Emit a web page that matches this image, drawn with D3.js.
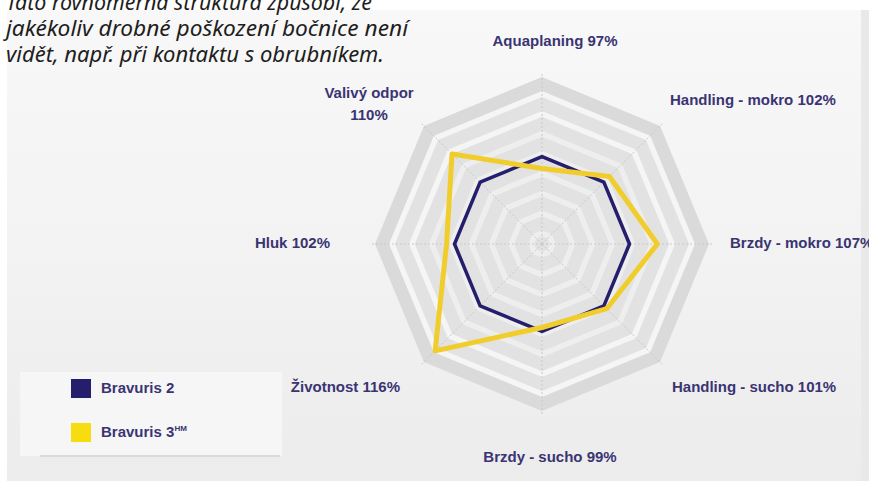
<!DOCTYPE html>
<html>
<head>
<meta charset="utf-8">
<script src="https://cdn.jsdelivr.net/npm/d3@7"></script>
<style>
  html, body { margin: 0; padding: 0; background: #ffffff; }
  #chart { width: 869px; height: 481px; overflow: hidden; }
</style>
</head>
<body>
<div id="chart"></div>
<script>
// data
const axes = ["Aquaplaning", "Handling - mokro", "Brzdy - mokro", "Handling - sucho",
              "Brzdy - sucho", "Životnost", "Hluk", "Valivý odpor"];
const bravuris2 = [100, 100, 100, 100, 100, 100, 100, 100];
const bravuris3 = [97, 102, 107, 101, 99, 116, 102, 110];
const seriesNames = ["Bravuris 2", "Bravuris 3"];
const gridTicks = [120, 115, 110, 105, 100, 95, 90, 85, 80];
const captionLines = [
    "Tato rovnoměrná struktura způsobí, že",
    "jakékoliv drobné poškození bočnice není",
    "vidět, např. při kontaktu s obrubníkem."
];

function drawRadar() {

    d3.select("#chart").selectAll("*").remove();

    const W = 869, H = 481;
    const cx = 542, cy = 244;
    const navy = "#241e6c", yellow = "#f1cd2c", labelColor = "#3a3472";

    const svg = d3.select("#chart")
        .append("svg")
        .attr("width", W)
        .attr("height", H);

    const defs = svg.append("defs");
    const bg = defs.append("linearGradient").attr("id", "bg")
        .attr("x1", 0).attr("y1", 0).attr("x2", 0).attr("y2", 1);
    bg.append("stop").attr("offset", "0%").attr("stop-color", "#f8f8f8");
    bg.append("stop").attr("offset", "55%").attr("stop-color", "#f2f2f2");
    bg.append("stop").attr("offset", "100%").attr("stop-color", "#ececec");

    // photo background
    svg.append("rect")
        .attr("x", 7).attr("y", 10)
        .attr("width", W - 7).attr("height", H - 10)
        .attr("fill", "url(#bg)");
    svg.append("rect")
        .attr("x", 861).attr("y", 10)
        .attr("width", 8).attr("height", H - 10)
        .attr("fill", "#e9e9e9");

    const rScale = d3.scaleLinear()
        .domain([78, 120])
        .range([0, 167]);

    const angle = d3.scalePoint()
        .domain(d3.range(axes.length + 1))
        .range([0, 2 * Math.PI]);

    const point = (i, r) => [cx + r * Math.sin(angle(i)), cy - r * Math.cos(angle(i))];
    const octagon = r => d3.range(axes.length).map(i => point(i, r));
    const line = d3.line().curve(d3.curveLinearClosed);

    const grid = svg.append("g").attr("class", "grid");

    // alternating grey / white bands
    gridTicks.forEach((t, k) => {
        const r = rScale(t);
        grid.append("path")
            .attr("d", line(octagon(r)))
            .attr("fill", k === 0 ? "#dadada" : "#e2e2e2");
        grid.append("path")
            .attr("d", line(octagon(Math.max(r - 14, 0))))
            .attr("fill", k < 2 ? "#f5f5f5" : "#eeeeee");
    });

    // dashed axis lines
    grid.selectAll(".axis")
        .data(axes)
        .enter().append("line")
        .attr("class", "axis")
        .attr("x1", cx).attr("y1", cy)
        .attr("x2", (d, i) => point(i, rScale(120) + 4)[0])
        .attr("y2", (d, i) => point(i, rScale(120) + 4)[1])
        .attr("stroke", "#c8c8c8")
        .attr("stroke-width", 1)
        .attr("stroke-dasharray", "2,2");

    // series
    svg.append("path")
        .attr("d", line(bravuris2.map((v, i) => point(i, rScale(v)))))
        .attr("fill", "none")
        .attr("stroke", navy)
        .attr("stroke-width", 3.5)
        .attr("stroke-linejoin", "round");

    svg.append("path")
        .attr("d", line(bravuris3.map((v, i) => point(i, rScale(v)))))
        .attr("fill", "none")
        .attr("stroke", yellow)
        .attr("stroke-width", 5)
        .attr("stroke-linejoin", "round");

    // axis labels
    const labelR = 205;
    const nudge = [[13, 7], [-17, 6], [-17, 4], [-15, 3], [8, 13], [3, 3], [-7, 4], [-28, 7]];
    const labels = svg.append("g")
        .style("font-family", "'Liberation Sans', Arial, sans-serif")
        .style("font-size", "15px")
        .style("font-weight", "bold")
        .attr("fill", labelColor);

    axes.forEach((name, i) => {
        const [x, y] = point(i, labelR);
        const s = Math.sin(angle(i));
        const anchor = Math.abs(s) < 0.01 ? "middle" : (s > 0 ? "start" : "end");
        const t = labels.append("text")
            .attr("x", x + nudge[i][0])
            .attr("y", y + nudge[i][1])
            .attr("text-anchor", anchor);
        if (name === "Valivý odpor") {
            t.attr("text-anchor", "middle");
            t.append("tspan").attr("x", x + nudge[i][0]).attr("dy", "-8").text(name);
            t.append("tspan").attr("x", x + nudge[i][0]).attr("dy", "22").text(`${bravuris3[i]}%`);
        } else {
            t.text(`${name} ${bravuris3[i]}%`);
        }
    });

    // legend
    const legend = svg.append("g");
    legend.append("rect")
        .attr("x", 20).attr("y", 372)
        .attr("width", 262).attr("height", 84)
        .attr("fill", "#f6f6f6");
    legend.append("rect")
        .attr("x", 40).attr("y", 455)
        .attr("width", 240).attr("height", 2)
        .attr("fill", "#dadada");

    const colors = [navy, "#f7dc10"];
    legend.selectAll(".swatch")
        .data(seriesNames)
        .enter().append("rect")
        .attr("class", "swatch")
        .attr("x", 71)
        .attr("y", (d, i) => 379 + i * 44)
        .attr("width", 20)
        .attr("height", 19)
        .attr("fill", (d, i) => colors[i]);

    const ltext = legend.selectAll(".ltext")
        .data(seriesNames)
        .enter().append("text")
        .attr("class", "ltext")
        .attr("x", 101)
        .attr("y", (d, i) => 393 + i * 44)
        .style("font-family", "'Liberation Sans', Arial, sans-serif")
        .style("font-size", "15px")
        .style("font-weight", "bold")
        .attr("fill", labelColor)
        .text(d => d);
    ltext.filter((d, i) => i === 1)
        .append("tspan")
        .attr("dy", "-6")
        .style("font-size", "8px")
        .text("HM");

    // caption over the photo
    svg.append("g")
        .selectAll("text")
        .data(captionLines)
        .enter().append("text")
        .attr("x", 6)
        .attr("y", (d, i) => 10 + i * 26)
        .attr("textLength", (d, i) => [366, 402, 378][i])
        .attr("lengthAdjust", "spacingAndGlyphs")
        .style("font-family", "'Noto Sans', sans-serif")
        .style("font-style", "italic")
        .style("font-size", "21px")
        .attr("fill", "#1e1e1e")
        .text(d => d);
}

drawRadar();
</script>
</body>
</html>
